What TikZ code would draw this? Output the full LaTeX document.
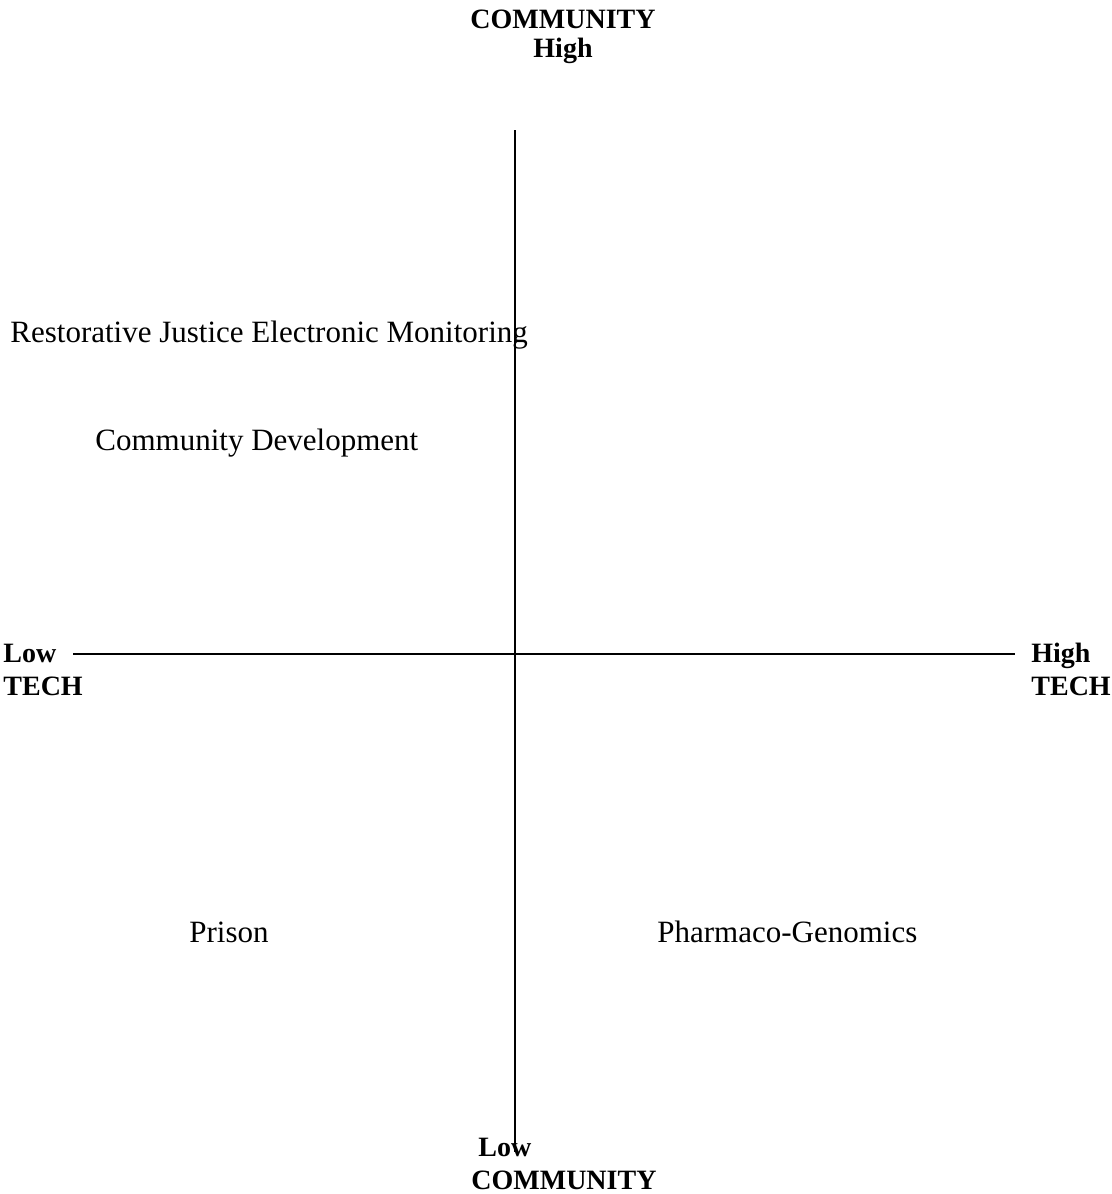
\documentclass[tikz,border=0pt]{standalone}
\usepackage{fontspec}
\setmainfont{Liberation Serif}
\begin{document}
\begin{tikzpicture}[x=0.5pt,y=-0.5pt,
  axis/.style={line width=1pt},
  lab/.style={font=\fontsize{14}{17}\selectfont\bfseries, inner sep=0pt},
  item/.style={font=\fontsize{15.5}{18}\selectfont, inner sep=0pt}]
\useasboundingbox (0,0) rectangle (1112,1194);
\coordinate (vt) at (515,130);
\coordinate (vb) at (515,1152);
\coordinate (hl) at (73,654);
\coordinate (hr) at (1015,654);
\draw[axis] (vt) -- (vb);
\draw[axis] (hl) -- (hr);
\node[lab, anchor=base] (tc) at (563,28) {COMMUNITY};
\node[lab, anchor=base] (th) at (563,57) {High};
\node[lab, anchor=base west] (ll) at (3,662) {Low};
\node[lab, anchor=base west] (lt) at (3,695) {TECH};
\node[lab, anchor=base west] (rh) at (1031,662) {High};
\node[lab, anchor=base west] (rt) at (1031,695) {TECH};
\node[lab, anchor=base west] (bl) at (478,1156) {Low};
\node[lab, anchor=base west] (bc) at (471,1189) {COMMUNITY};
\node[item, anchor=base west] (rj) at (10,342) {Restorative Justice Electronic Monitoring};
\node[item, anchor=base west] (cd) at (95,450) {Community Development};
\node[item, anchor=base west] (pr) at (189,942) {Prison};
\node[item, anchor=base west] (pg) at (657,942) {Pharmaco-Genomics};
\end{tikzpicture}
\end{document}
